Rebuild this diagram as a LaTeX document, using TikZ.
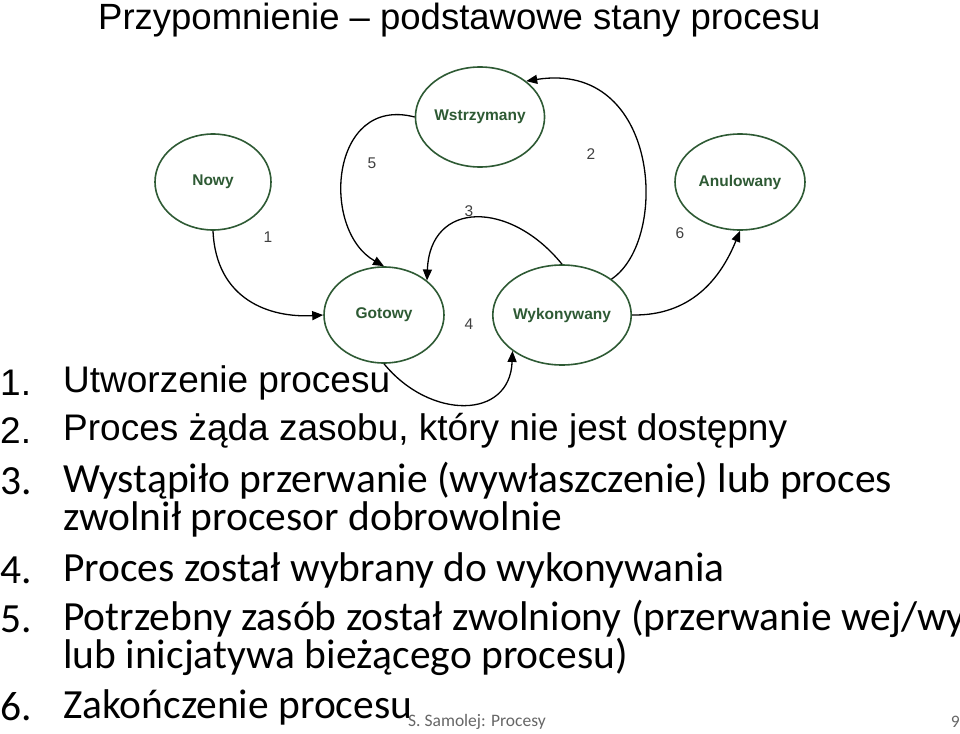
\documentclass[tikz,border=0pt]{standalone}
\usepackage{fontspec}
\setmainfont{Carlito}
\newfontfamily\arialf{Liberation Sans}
\usetikzlibrary{arrows.meta,shapes.geometric}
\definecolor{stg}{HTML}{2E5A34}
\begin{document}
\begin{tikzpicture}[x=1pt,y=-1pt,
  st/.style={ellipse,draw=stg,line width=1.6pt,fill=white,minimum width=#1,minimum height=96,inner sep=0,font=\arialf\bfseries\fontsize{15.5}{18}\selectfont,text=stg},
  st/.default=116,
  tr/.style={-{Triangle[length=11,width=9]},line width=1.3pt},
  lb/.style={font=\arialf\fontsize{15.5}{18}\selectfont,text=black!75},
  li/.style={anchor=west,font=\fontsize{41.5}{48}\selectfont,inner sep=0},
  la/.style={anchor=west,font=\arialf\fontsize{37}{44}\selectfont,inner sep=0}]
\useasboundingbox (0,0) rectangle (960,733);
\node[anchor=west,inner sep=0,font=\arialf\fontsize{36.5}{42}\selectfont] (title) at (98,20) {Przypomnienie – podstawowe stany procesu};
\node[st] (nowy) at (213,182) {Nowy};
\node[st=118,minimum height=100] (wst) at (480,117) {Wstrzymany};
\node[st=130] (anu) at (740,182) {Anulowany};
\node[st=120] (got) at (384,315) {Gotowy};
\node[st=118,minimum height=100] (wyk) at (562,315) {Wykonywany};
\draw[tr] (nowy.south) .. controls (216,300) and (270,318) .. (got.west);
\draw[tr] (wst.west) .. controls (330,95) and (320,230) .. (got.north);
\draw[tr] (wyk.north east) .. controls (670,240) and (660,60) .. (wst.north east);
\draw[tr] (wyk.north) .. controls (510,200) and (430,200) .. (got.north east);
\draw[tr] (got.south) .. controls (430,420) and (510,420) .. (wyk.south west);
\draw[tr] (wyk.east) .. controls (690,316) and (720,280) .. (anu.south);
\node[lb] (l1) at (268,237) {1};
\node[lb] (l2) at (591,154) {2};
\node[lb] (l3) at (469,211) {3};
\node[lb] (l4) at (469,324) {4};
\node[lb] (l5) at (372,163) {5};
\node[lb] (l6) at (680,233) {6};
\node[la] (n1) at (0,383) {1.};
\node[la] (i1) at (63,383) {Utworzenie procesu};
\node[la] (n2) at (0,431) {2.};
\node[la] (i2) at (63,431) {Proces żąda zasobu, który nie jest dostępny};
\node[li] (n3) at (0,481) {3.};
\node[li] (i3) at (63,481) {Wystąpiło przerwanie (wywłaszczenie) lub proces};
\node[li] (i3b) at (63,519) {zwolnił procesor dobrowolnie};
\node[li] (n4) at (0,570) {4.};
\node[li] (i4) at (63,570) {Proces został wybrany do wykonywania};
\node[li] (n5) at (0,619) {5.};
\node[li] (i5) at (63,619) {Potrzebny zasób został zwolniony (przerwanie wej/wyj};
\node[li] (i5b) at (63,657) {lub inicjatywa bieżącego procesu)};
\node[li] (n6) at (0,707) {6.};
\node[li] (i6) at (63,707) {Zakończenie procesu};
\node[anchor=west,inner sep=0,font=\fontsize{17.5}{20}\selectfont,text=black!60] (ft) at (408,722) {S. Samolej: Procesy};
\node[anchor=east,inner sep=0,font=\fontsize{17.5}{20}\selectfont,text=black!60] (pg) at (960,722) {9};
\end{tikzpicture}
\end{document}
